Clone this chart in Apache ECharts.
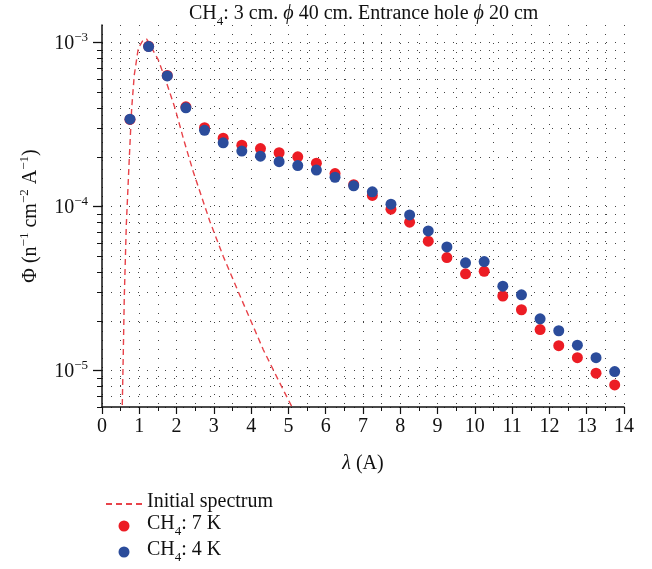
<!DOCTYPE html>
<html>
<head>
	<meta charset="utf-8">
	<title>CH4 spectrum</title>
	<style>html,body{margin:0;padding:0;background:#fff;}</style>
</head>

<body>
	<div style="width:652px;height:569px;" id="chart1"></div>

	<script src="https://cdn.jsdelivr.net/npm/echarts@6/dist/echarts.min.js"></script>
	<script>

	// wavelength bins (A)
	var lambda = [0.75, 1.25, 1.75, 2.25, 2.75, 3.25, 3.75, 4.25, 4.75, 5.25, 5.75, 6.25, 6.75, 7.25,
		7.75, 8.25, 8.75, 9.25, 9.75, 10.25, 10.75, 11.25, 11.75, 12.25, 12.75, 13.25, 13.75];

	// CH4 at 7 K
	var ch4_7K = [3.4e-4, 9.5e-4, 6.3e-4, 4.06e-4, 3.03e-4, 2.61e-4, 2.37e-4, 2.26e-4, 2.13e-4, 2.01e-4,
		1.84e-4, 1.59e-4, 1.36e-4, 1.17e-4, 9.64e-5, 8.04e-5, 6.15e-5, 4.89e-5, 3.89e-5, 4.03e-5,
		2.85e-5, 2.35e-5, 1.78e-5, 1.42e-5, 1.20e-5, 9.64e-6, 8.18e-6];

	// CH4 at 4 K
	var ch4_4K = [3.41e-4, 9.45e-4, 6.26e-4, 4.0e-4, 2.92e-4, 2.45e-4, 2.18e-4, 2.03e-4, 1.88e-4, 1.78e-4,
		1.67e-4, 1.51e-4, 1.34e-4, 1.23e-4, 1.035e-4, 8.9e-5, 7.11e-5, 5.68e-5, 4.54e-5, 4.62e-5,
		3.27e-5, 2.90e-5, 2.07e-5, 1.75e-5, 1.43e-5, 1.20e-5, 9.86e-6];

	// initial spectrum (dashed curve)
	var initX = [0.544, 0.571, 0.598, 0.652, 0.732, 0.796, 0.866, 0.974, 1.108, 1.199, 1.51, 1.735,
		1.958, 2.18, 2.448, 2.896, 3.253, 3.521, 3.789, 4.057, 4.326, 4.594, 4.862, 5.095];
	var initY = [6.18e-6, 1.28e-5, 2.83e-5, 7.73e-5, 1.97e-4, 3.98e-4, 6.35e-4, 9.25e-4, 1.04e-3, 1.05e-3,
		7.85e-4, 5.65e-4, 3.98e-4, 2.61e-4, 1.63e-4, 8.09e-5, 4.96e-5, 3.57e-5, 2.57e-5,
		1.86e-5, 1.34e-5, 1.01e-5, 7.62e-6, 6.01e-6];

	var majorTicks = [1e-5, 1e-4, 1e-3];
	var decades = [1e-6, 1e-5, 1e-4, 1e-3];
	var yMin = 6.0e-6, yMax = 1.28e-3;

	var serif = '"Liberation Serif", "DejaVu Serif", serif';

	function zip(xs, ys) {
		var out = [];
		for (var i = 0; i < xs.length; i++) out.push([xs[i], ys[i]]);
		return out;
	}

	// all log ticks (1..9 x decade) inside the axis range
	var allTicks = [];
	for (var d = 0; d < decades.length; d++) {
		for (var m = 1; m <= 9; m++) {
			var v = +(m * decades[d]).toPrecision(3);
			if (v >= yMin && v <= yMax) allTicks.push(v);
		}
	}

	var ink = '#111';
	var supRich = {
		b: { fontSize: 20, fontFamily: serif, fontWeight: 'normal', color: ink, verticalAlign: 'bottom' },
		sup: { fontSize: 13, fontFamily: serif, fontWeight: 'normal', color: ink, verticalAlign: 'bottom', padding: [0, 0, 10, 0] },
		sub: { fontSize: 13, fontFamily: serif, fontWeight: 'normal', color: ink, verticalAlign: 'bottom' },
		a: { fontSize: 20, fontFamily: serif, fontWeight: 'normal', color: ink, verticalAlign: 'bottom', padding: [0, 0, 4, 0] },
		i: { fontSize: 20, fontFamily: serif, fontWeight: 'normal', fontStyle: 'italic', color: ink, verticalAlign: 'bottom', padding: [0, 0, 4, 0] }
	};

	var legendNames = {
		'Initial spectrum': '{a|Initial spectrum}',
		'CH4: 7 K': '{a|CH}{sub|4}{a|: 7 K}',
		'CH4: 4 K': '{a|CH}{sub|4}{a|: 4 K}'
	};

	var myChart = echarts.init(document.getElementById('chart1'));

	var option = {
		backgroundColor: '#fff',
		animation: false,
		title: {
			text: '{a|CH}{sub|4}{a|: 3 cm. }{i|ϕ}{a| 40 cm. Entrance hole }{i|ϕ}{a| 20 cm}',
			left: 184,
			top: -1,
			textStyle: { fontWeight: 'normal', rich: supRich }
		},
		grid: { left: 102, right: 28, top: 25, bottom: 162 },
		xAxis: {
			type: 'value',
			min: 0, max: 14, interval: 1,
			name: '{i|λ}{a| (A)}',
			nameLocation: 'middle',
			nameGap: 47,
			nameTextStyle: { rich: supRich },
			axisLine: { lineStyle: { color: ink, width: 1.5 } },
			axisTick: { inside: false, length: 7, lineStyle: { color: ink, width: 1.2 } },
			minorTick: { show: true, splitNumber: 2, length: 4, lineStyle: { color: ink } },
			axisLabel: { fontSize: 20, fontFamily: serif, color: ink, margin: 10 },
			splitLine: { show: true, lineStyle: { color: '#444', type: [1, 8], width: 1 } },
			minorSplitLine: { show: true, lineStyle: { color: '#444', type: [1, 8], width: 1 } }
		},
		yAxis: [{
			type: 'log',
			min: yMin, max: yMax,
			name: '{b|Φ (n}{sup|−1}{b| cm}{sup|−2}{b| A}{sup|−1}{b|)}',
			nameLocation: 'middle',
			nameGap: 61,
			nameTextStyle: { rich: supRich },
			axisLine: { show: true, lineStyle: { color: ink, width: 1.5 } },
			axisTick: { show: true, length: 5, customValues: allTicks, lineStyle: { color: ink } },
			axisLabel: {
				customValues: majorTicks,
				margin: 14,
				formatter: function (v) {
					return '{b|10}{sup|−' + Math.round(-Math.log10(v)) + '}';
				},
				rich: supRich
			},
			splitLine: { show: true, lineStyle: { color: '#444', type: [1, 8], width: 1 } }
		}, {
			type: 'log',
			min: yMin, max: yMax,
			position: 'left',
			axisLine: { show: false },
			axisTick: { show: true, length: 9, customValues: majorTicks, lineStyle: { color: ink, width: 1.3 } },
			axisLabel: { show: false },
			splitLine: { show: false }
		}],
		legend: {
			orient: 'vertical',
			left: 100,
			top: 487,
			height: 90,
			itemWidth: 36,
			itemHeight: 11,
			itemGap: 2,
			formatter: function (name) { return legendNames[name]; },
			textStyle: { rich: supRich },
			data: [
				{ name: 'Initial spectrum', itemStyle: { color: 'rgba(0,0,0,0)', borderWidth: 0 } },
				{ name: 'CH4: 7 K', icon: 'circle' },
				{ name: 'CH4: 4 K', icon: 'circle' }
			]
		},
		series: [{
			name: 'Initial spectrum',
			type: 'line',
			data: zip(initX, initY),
			showSymbol: false,
			symbol: 'none',
			lineStyle: { color: '#e8434a', width: 1.4, type: [6, 4] },
			itemStyle: { color: '#e8434a' },
			z: 3
		}, {
			name: 'CH4: 7 K',
			type: 'scatter',
			data: zip(lambda, ch4_7K),
			symbolSize: 11,
			itemStyle: { color: '#ec1c24', opacity: 1 },
			z: 4
		}, {
			name: 'CH4: 4 K',
			type: 'scatter',
			data: zip(lambda, ch4_4K),
			symbolSize: 11,
			itemStyle: { color: '#2b4c9b', opacity: 1 },
			z: 5
		}]
	};

	myChart.setOption(option);

	</script>
</body>

</html>
